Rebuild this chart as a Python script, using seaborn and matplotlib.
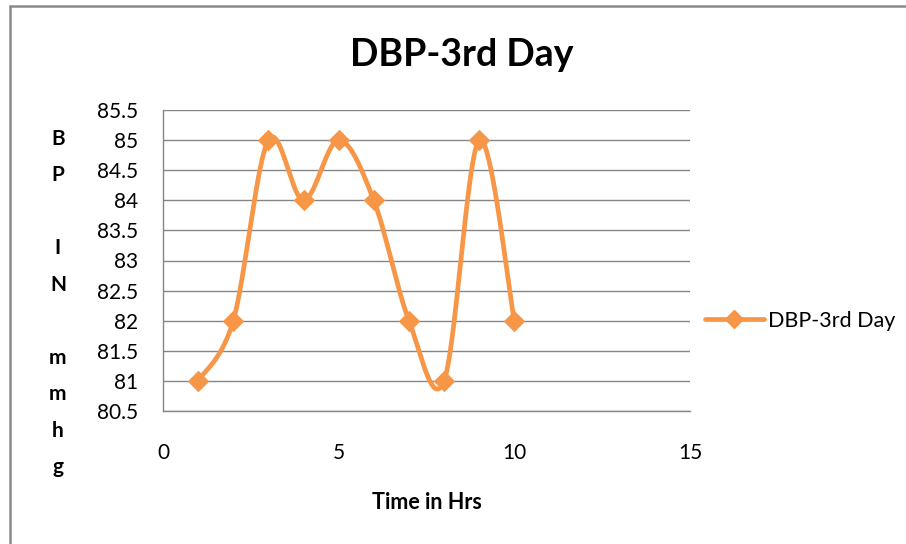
import numpy as np
import pandas as pd
import matplotlib
matplotlib.use("Agg")
import matplotlib.pyplot as plt
from matplotlib.lines import Line2D
import seaborn as sns

hours = [1, 2, 3, 4, 5, 6, 7, 8, 9, 10]
dbp = [81, 82, 85, 84, 85, 84, 82, 81, 85, 82]
series_name = "DBP-3rd Day"
x_ticks = [0, 5, 10, 15]
y_ticks = [80.5, 81, 81.5, 82, 82.5, 83, 83.5, 84, 84.5, 85, 85.5]

ORANGE = "#F79646"
GRID = "#868686"
FONT = ["Lato", "DejaVu Sans"]

sns.set_theme(style="white")
plt.rcParams["font.family"] = FONT
plt.rcParams["text.color"] = "black"


def smooth_curve(xs, ys, n=40):
    """Excel-like smoothed line: Catmull-Rom converted to cubic Bezier segments."""
    P = np.column_stack([xs, ys]).astype(float)
    out = []
    m = len(P)
    for i in range(m - 1):
        p0 = P[i - 1] if i > 0 else P[i]
        p1 = P[i]
        p2 = P[i + 1]
        p3 = P[i + 2] if i + 2 < m else P[i + 1]
        c1 = p1 + (p2 - p0) / 6.0
        c2 = p2 - (p3 - p1) / 6.0
        t = np.linspace(0, 1, n, endpoint=(i == m - 2))[:, None]
        seg = ((1 - t) ** 3) * p1 + 3 * ((1 - t) ** 2) * t * c1 + 3 * (1 - t) * t ** 2 * c2 + t ** 3 * p2
        out.append(seg)
    return np.vstack(out)


curve = smooth_curve(hours, dbp)
curve_df = pd.DataFrame({"x": curve[:, 0], "y": curve[:, 1]})
pts_df = pd.DataFrame({"Time": hours, "DBP": dbp})

fig = plt.figure(figsize=(9.06, 5.44), dpi=100)
ax = fig.add_axes([163 / 906, 1 - 411 / 544, (690 - 163) / 906, (411 - 110) / 544])

ax.plot(curve_df["x"], curve_df["y"], color=ORANGE, lw=3.4, solid_capstyle="round", zorder=3)
sns.scatterplot(data=pts_df, x="Time", y="DBP", ax=ax, marker="D", s=120,
                color=ORANGE, edgecolor=ORANGE, linewidth=0, zorder=4, legend=False)

ax.set_xlim(0, 15)
ax.set_ylim(80.5, 85.5)
ax.set_xticks(x_ticks)
ax.set_yticks(y_ticks)
ax.set_yticklabels([f"{v:g}" for v in y_ticks])
ax.yaxis.grid(True, color=GRID, lw=1)
ax.xaxis.grid(False)
for s in ["top", "right"]:
    ax.spines[s].set_visible(False)
for s in ["left", "bottom"]:
    ax.spines[s].set_color(GRID)
    ax.spines[s].set_linewidth(1)
ax.tick_params(axis="both", direction="out", length=5, width=1, color=GRID,
               labelsize=15, labelcolor="black")
ax.tick_params(axis="x", pad=18)
ax.tick_params(axis="y", pad=13)
ax.set_xlabel("Time in Hrs", fontsize=15.5, fontweight="bold", labelpad=21, color="black")
ax.set_ylabel("")

fig.text(462 / 906, 1 - 55 / 544, series_name, ha="center", va="center",
         fontsize=27, fontweight="bold", color="black")
fig.text(58 / 906, 1 - 303 / 544, "B\nP\n\nI\nN\n\nm\nm\nh\ng", ha="center", va="center",
         fontsize=15, fontweight="bold", linespacing=2.03, multialignment="center",
         color="black")

handle = Line2D([0], [0], color=ORANGE, lw=3.4, marker="D", markersize=9.5,
                markerfacecolor=ORANGE, markeredgecolor=ORANGE)
fig.legend([handle], [series_name], loc="center left",
           bbox_to_anchor=(696 / 906, 1 - 321 / 544), frameon=False, fontsize=15.5,
           handlelength=2.75, handletextpad=0.2, borderaxespad=0)

# outer chart border (left and top edges visible)
fig.add_artist(Line2D([9.5 / 906, 9.5 / 906], [0, 1 - 6 / 544], transform=fig.transFigure,
                      color="#8a8a8a", lw=1.8))
fig.add_artist(Line2D([9.5 / 906, 1], [1 - 6 / 544, 1 - 6 / 544], transform=fig.transFigure,
                      color="#8a8a8a", lw=1.8))

fig.savefig("out.png", dpi=100, facecolor="white")
